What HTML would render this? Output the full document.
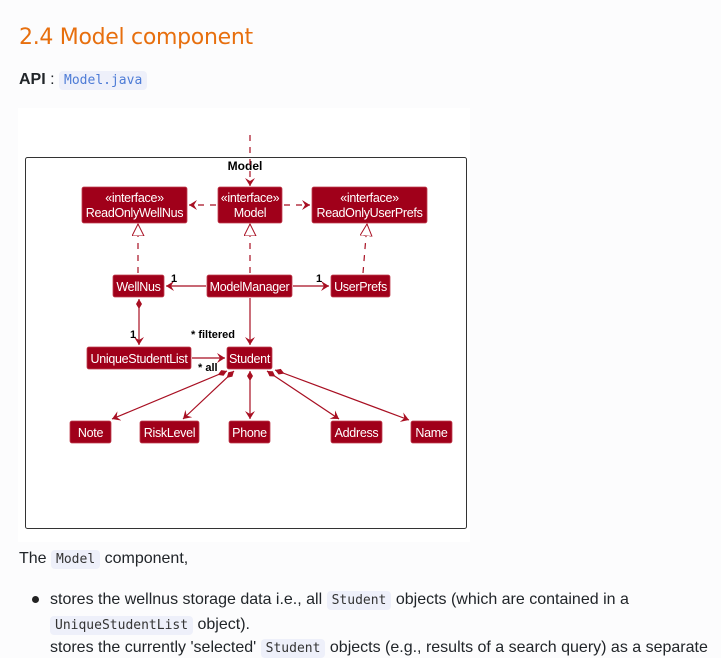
<!DOCTYPE html>
<html><head><meta charset="utf-8"><style>
body{margin:0;background:#fcfcfd;width:721px;height:646px;overflow:hidden;font-family:"Liberation Sans",sans-serif;color:#212529;position:relative}
.a{position:absolute;white-space:nowrap}
code{font-family:"DejaVu Sans Mono","Liberation Mono",monospace;background:#eef0fa;border-radius:4px;padding:2px 5px;font-size:13px;color:#333}
</style></head><body>
<div class="a" style="left:19px;top:25px;font-size:22px;color:#e76f0e;font-family:'DejaVu Sans',sans-serif;letter-spacing:-0.3px">2.4 Model component</div>
<div class="a" style="left:19px;top:71px;font-size:16px"><b>API</b> : <code style="color:#4d7bd6">Model.java</code></div>
<svg class="a" style="left:0;top:0" width="721" height="646">
<defs>
<marker id="ar" markerWidth="10" markerHeight="10" refX="8" refY="5" orient="auto" markerUnits="userSpaceOnUse"><path d="M0,0 L8,5 L0,10 L3,5 Z" fill="#a80f22"/></marker>
<marker id="tri" markerWidth="14" markerHeight="14" refX="12" refY="6" orient="auto" markerUnits="userSpaceOnUse"><path d="M0,0 L12,6 L0,12 Z" fill="#fff" stroke="#a80f22"/></marker>
<marker id="dia" markerWidth="14" markerHeight="10" refX="1" refY="4" orient="auto" markerUnits="userSpaceOnUse"><path d="M1,4 L6,1 L11,4 L6,7 Z" fill="#a80f22"/></marker>
</defs>
<rect x="18" y="108" width="452" height="434" fill="#fff"/>
<rect x="25.5" y="157.5" width="441" height="371" fill="#fff" stroke="#333" rx="2"/>
<text x="245" y="170" font-size="12" font-weight="bold" text-anchor="middle" font-family="Liberation Sans,sans-serif" fill="#000">Model</text>
<g stroke="#a80f22" stroke-width="1.2" fill="none">
<line x1="250" y1="135" x2="250" y2="186" stroke-dasharray="6,6" marker-end="url(#ar)"/>
<line x1="216" y1="205" x2="189" y2="205" stroke-dasharray="6,6" marker-end="url(#ar)"/>
<line x1="284" y1="205" x2="310" y2="205" stroke-dasharray="6,6" marker-end="url(#ar)"/>
<line x1="138" y1="273" x2="138" y2="224" stroke-dasharray="6,6" marker-end="url(#tri)"/>
<line x1="250" y1="273" x2="250" y2="224" stroke-dasharray="6,6" marker-end="url(#tri)"/>
<line x1="363" y1="273" x2="367" y2="224" stroke-dasharray="6,6" marker-end="url(#tri)"/>
<line x1="206" y1="286" x2="166" y2="286" marker-end="url(#ar)"/>
<line x1="293" y1="286" x2="329" y2="286" marker-end="url(#ar)"/>
<line x1="250" y1="298" x2="250" y2="345" marker-end="url(#ar)"/>
<line x1="139" y1="299" x2="139" y2="345" marker-start="url(#dia)" marker-end="url(#ar)"/>
<line x1="192" y1="358" x2="225" y2="358" marker-end="url(#ar)"/>
<line x1="227" y1="371" x2="112" y2="419" marker-start="url(#dia)" marker-end="url(#ar)"/>
<line x1="234" y1="371" x2="183" y2="419" marker-start="url(#dia)" marker-end="url(#ar)"/>
<line x1="250" y1="371" x2="250" y2="419" marker-start="url(#dia)" marker-end="url(#ar)"/>
<line x1="267" y1="371" x2="339" y2="419" marker-start="url(#dia)" marker-end="url(#ar)"/>
<line x1="275" y1="370" x2="409" y2="420" marker-start="url(#dia)" marker-end="url(#ar)"/>
</g>
<g fill="#a0001a" stroke="#c04050" stroke-width="0.8">
<rect x="82" y="187" width="105" height="36" rx="2"/>
<rect x="218" y="187" width="64" height="36" rx="2"/>
<rect x="312" y="187" width="115" height="36" rx="2"/>
<rect x="113" y="275" width="51" height="22" rx="2"/>
<rect x="207" y="275" width="85" height="22" rx="2"/>
<rect x="331" y="275" width="59" height="22" rx="2"/>
<rect x="87" y="347" width="104" height="22" rx="2"/>
<rect x="227" y="347" width="45" height="22" rx="2"/>
<rect x="70" y="421" width="41" height="22" rx="2"/>
<rect x="140" y="421" width="59" height="22" rx="2"/>
<rect x="229" y="421" width="41" height="22" rx="2"/>
<rect x="331" y="421" width="51" height="22" rx="2"/>
<rect x="411" y="421" width="41" height="22" rx="2"/>
</g>
<g fill="#fff" font-size="12.5" text-anchor="middle" font-family="Liberation Sans,sans-serif" letter-spacing="-0.3">
<text x="134.5" y="202">«interface»</text><text x="134.5" y="217">ReadOnlyWellNus</text>
<text x="250" y="202">«interface»</text><text x="250" y="217">Model</text>
<text x="369.5" y="202">«interface»</text><text x="369.5" y="217">ReadOnlyUserPrefs</text>
<text x="138.5" y="291">WellNus</text>
<text x="249.5" y="291">ModelManager</text>
<text x="360.5" y="291">UserPrefs</text>
<text x="139" y="363">UniqueStudentList</text>
<text x="249.5" y="363">Student</text>
<text x="90.5" y="437">Note</text>
<text x="169.5" y="437">RiskLevel</text>
<text x="249.5" y="437">Phone</text>
<text x="356.5" y="437">Address</text>
<text x="431.5" y="437">Name</text>
</g>
<g fill="#000" font-size="11" font-weight="bold" font-family="Liberation Sans,sans-serif">
<text x="171" y="282">1</text>
<text x="316" y="282">1</text>
<text x="130" y="338">1</text>
<text x="191" y="338">* filtered</text>
<text x="198" y="371">* all</text>
</g>
</svg>
<div class="a" style="left:19px;top:550px;font-size:16px">The <code>Model</code> component,</div>
<div class="a" style="left:32px;top:596px;width:7px;height:7px;border-radius:50%;background:#222"></div>
<div class="a" style="left:50px;top:588px;font-size:16px;line-height:24px">stores the wellnus storage data i.e., all <code>Student</code> objects (which are contained in a<br><code>UniqueStudentList</code> object).</div>
<div class="a" style="left:50px;top:639px;font-size:16px">stores the currently 'selected' <code>Student</code> objects (e.g., results of a search query) as a separate</div>
</body></html>
